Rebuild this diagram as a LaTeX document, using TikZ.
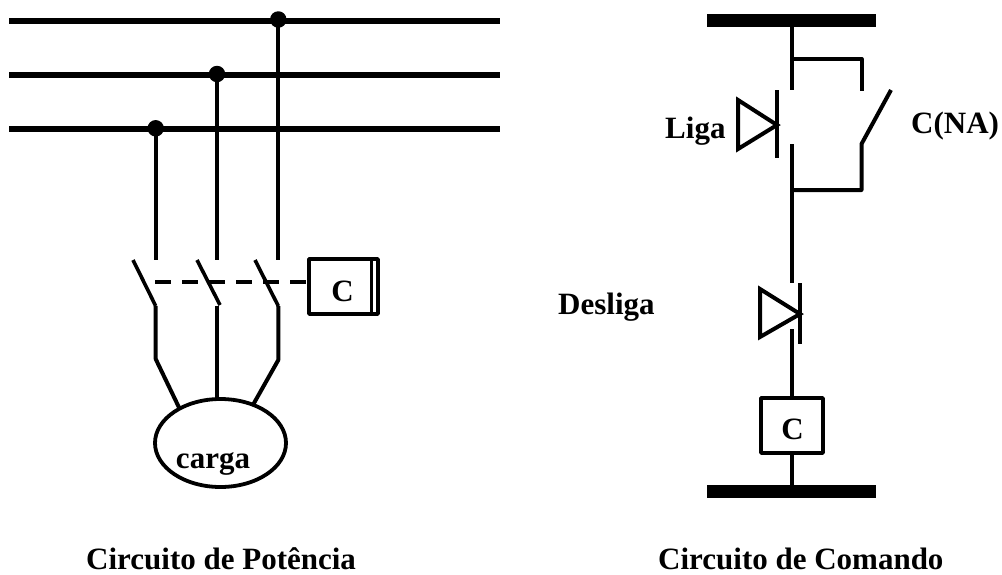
\documentclass[tikz,border=0pt]{standalone}
\usepackage{fontspec}
\setmainfont{Liberation Serif}
\usetikzlibrary{shapes.geometric,calc}
\tikzset{
  wire/.style={line width=4pt,line cap=butt,line join=round},
  busline/.style={line width=6pt},
  thickbus/.style={line width=13pt},
  dotnode/.style={circle,fill=black,inner sep=0pt,minimum size=16.5pt},
  coilbox/.style={draw,line width=3.6pt,line join=round,inner sep=0pt,fill=white},
  lab/.style={font=\bfseries\fontsize{31}{31}\selectfont,inner sep=0pt},
  dashwire/.style={line width=4pt,dash pattern=on 16pt off 11pt},
  loadnode/.style={ellipse,draw,line width=3.8pt,inner sep=0pt,minimum width=131pt,minimum height=88pt}
}
\begin{document}
\begin{tikzpicture}[x=1pt,y=-1pt]
\useasboundingbox (0,0) rectangle (1002,574);
% --- power circuit ---
\coordinate (L1a) at (9,20.7);   \coordinate (L1b) at (500,20.7);
\coordinate (L2a) at (9,74.5);   \coordinate (L2b) at (500,74.5);
\coordinate (L3a) at (9,129);  \coordinate (L3b) at (500,129);
\draw[busline] (L1a) -- (L1b);
\draw[busline] (L2a) -- (L2b);
\draw[busline] (L3a) -- (L3b);
\node[dotnode] (d1) at (278.3,19.5) {};
\node[dotnode] (d2) at (217,74) {};
\node[dotnode] (d3) at (155.7,128.3) {};
\coordinate (t1) at (155.7,260);
\coordinate (t2) at (217,260);
\coordinate (t3) at (278.3,260);
\draw[wire] (d3.center) -- (t1);
\draw[wire] (d2.center) -- (t2);
\draw[wire] (d1.center) -- (t3);
% blades
\coordinate (a1) at (133,260); \coordinate (b1) at (155.7,306);
\coordinate (a2) at (197,260); \coordinate (b2) at (220,305);
\coordinate (a3) at (255,260); \coordinate (b3) at (278.3,306);
\draw[wire,line width=3.6pt] (a1) -- (b1);
\draw[wire,line width=3.6pt] (a2) -- (b2);
\draw[wire,line width=3.6pt] (a3) -- (b3);
% load
\node[loadnode] (load) at (220.5,443) {};
\node[lab,anchor=base] (loadtext) at (213,468) {carga};
\coordinate (k1) at (155.7,359);
\coordinate (k3) at (278.3,360);
\coordinate (e1) at (179.5,408.5);
\coordinate (e2) at (217,398);
\coordinate (e3) at (253.5,404);
\coordinate (c2) at (217,306);
\draw[wire] (b1) -- (k1) -- (e1);
\draw[wire] (c2) -- (e2);
\draw[wire] (b3) -- (k3) -- (e3);
% contactor coil
\node[coilbox,minimum width=69pt,minimum height=55pt] (coil) at (343.5,286.5) {};
\coordinate (coilbar1) at (371,259);
\coordinate (coilbar2) at (371,314);
\draw[line width=3pt] (coilbar1) -- (coilbar2);
\node[lab,anchor=base] (coiltext) at (342.5,301.7) {C};
\coordinate (dashstart) at (155,282);
\draw[dashwire] (dashstart) -- (coil.west |- dashstart);
% --- command circuit ---
\coordinate (Ta) at (707,20.5); \coordinate (Tb) at (876,20.5);
\coordinate (Ba) at (707,491.5); \coordinate (Bb) at (876,491.5);
\draw[thickbus] (Ta) -- (Tb);
\draw[thickbus] (Ba) -- (Bb);
\coordinate (top) at (792,27);
\coordinate (p1) at (792,90);
\coordinate (j1) at (792,59);
\coordinate (r1) at (861.5,59);
\coordinate (r2) at (861.5,90.5);
\coordinate (r3) at (861.5,144);
\coordinate (r4) at (861.5,190);
\coordinate (j2) at (792,190);
\coordinate (p2) at (792,144);
\coordinate (p3) at (792,283);
\coordinate (p4) at (792,329);
\coordinate (naend) at (891,90);
\draw[wire] (top) -- (p1);
\draw[wire] (j1) -- (r1) -- (r2);
\draw[wire] (naend) -- (r3) -- (r4) -- (j2);
\draw[wire] (p2) -- (p3);
% Liga pushbutton
\coordinate (la) at (777,90); \coordinate (lb) at (777,158);
\draw[wire] (la) -- (lb);
\coordinate (l1) at (738,100); \coordinate (l2) at (738,149); \coordinate (l3) at (777,125);
\draw[wire,line join=miter] (l1) -- (l2) -- (l3) -- cycle;
% Desliga pushbutton
\coordinate (da) at (800,283); \coordinate (db) at (800,344);
\draw[wire] (da) -- (db);
\coordinate (d1t) at (760,289); \coordinate (d2t) at (760,337); \coordinate (d3t) at (800,314);
\draw[wire,line join=miter] (d1t) -- (d2t) -- (d3t) -- cycle;
% coil
\node[coilbox,minimum width=62pt,minimum height=55pt] (cmdcoil) at (792,425.5) {};
\node[lab,anchor=base] (cmdtext) at (792.5,439) {C};
\coordinate (bbtop) at (792,486);
\draw[wire] (p4) -- (cmdcoil.north);
\draw[wire] (cmdcoil.south) -- (bbtop);
% labels
\node[lab,anchor=base west] (liga) at (665,138) {Liga};
\node[lab,anchor=base west] (cna) at (911,133) {C(NA)};
\node[lab,anchor=base west] (desliga) at (558,314) {Desliga};
\node[lab,anchor=base west] (cap1) at (86,569) {Circuito de Potência};
\node[lab,anchor=base west] (cap2) at (658,569) {Circuito de Comando};
\end{tikzpicture}
\end{document}
